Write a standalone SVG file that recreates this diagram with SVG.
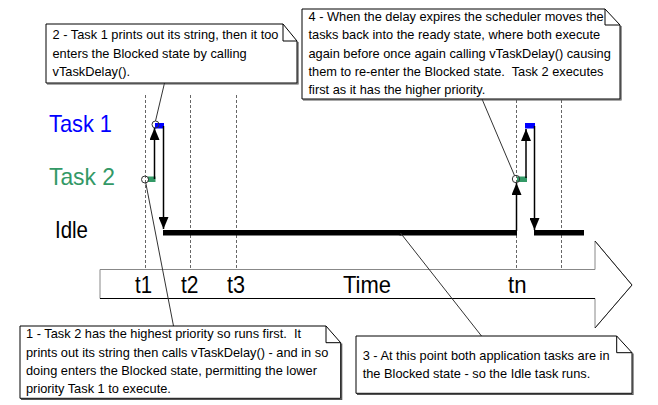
<svg xmlns="http://www.w3.org/2000/svg" width="658" height="405" viewBox="0 0 658 405">
<defs>
<marker id="ah" markerUnits="userSpaceOnUse" viewBox="0 0 12 10" markerWidth="12" markerHeight="10" refX="12" refY="5" orient="auto">
<path d="M0,0 L12,5 L0,10 z" fill="#000"/>
</marker>
<style>
.note{fill:#fff;stroke:#000;stroke-width:1}
.shadow{fill:none;stroke:#555;stroke-width:1.2}
.fold{fill:none;stroke:#000;stroke-width:1}
.nt{font-family:"Liberation Sans",Arial,sans-serif;font-size:12.8px;fill:#000;white-space:pre}
.big{font-family:"Liberation Sans",Arial,sans-serif;font-size:24px}
.dash{stroke:#666;stroke-width:1;stroke-dasharray:3,2;fill:none}
.lead{stroke:#333;stroke-width:1;fill:none}
.arr{stroke:#000;stroke-width:1.5;fill:none;marker-end:url(#ah)}
.ring{fill:none;stroke:#333;stroke-width:1}
.idle{fill:#000}
</style>
</defs>
<rect width="658" height="405" fill="#fff"/>

<g id="gridlines">
<line class="dash" x1="145.5" y1="95" x2="145.5" y2="269"/>
<line class="dash" x1="190.5" y1="95" x2="190.5" y2="269"/>
<line class="dash" x1="236.5" y1="95" x2="236.5" y2="269"/>
<line class="dash" x1="516.5" y1="95" x2="516.5" y2="269"/>
<line class="dash" x1="561.5" y1="95" x2="561.5" y2="269"/>
</g>

<g id="time-axis">
<polygon points="100,269.5 595,269.5 595,241 632,285 595,328 595,298.5 100,298.5" fill="#fff" stroke="#888" stroke-width="1"/>
<polyline points="100,298.5 595,298.5" fill="none" stroke="#000" stroke-width="1"/>
<polyline points="595,241 632,285 595,328" fill="none" stroke="#222" stroke-width="1"/>
<text class="big" x="135" y="292.5" textLength="17" lengthAdjust="spacingAndGlyphs">t1</text>
<text class="big" x="181" y="292.5" textLength="17.5" lengthAdjust="spacingAndGlyphs">t2</text>
<text class="big" x="227" y="292.5" textLength="18" lengthAdjust="spacingAndGlyphs">t3</text>
<text class="big" x="343" y="292.5" textLength="48" lengthAdjust="spacingAndGlyphs">Time</text>
<text class="big" x="508" y="292.5" textLength="18.5" lengthAdjust="spacingAndGlyphs">tn</text>
</g>

<g id="labels">
<text class="big" x="49" y="131.5" fill="#0000ff" font-size="25" textLength="63" lengthAdjust="spacingAndGlyphs">Task 1</text>
<text class="big" x="49" y="185" fill="#339966" font-size="25" textLength="66" lengthAdjust="spacingAndGlyphs">Task 2</text>
<text class="big" x="55" y="237.5" fill="#000" font-size="22" textLength="33" lengthAdjust="spacingAndGlyphs">Idle</text>
</g>

<g id="idle-bars">
<rect class="idle" x="163" y="230" width="354" height="5.5"/>
<rect class="idle" x="534" y="230" width="50" height="5.5"/>
<circle cx="400.5" cy="233" r="2.5" fill="#000"/>
</g>

<g id="task-bars">
<rect x="155" y="123" width="9" height="5.5" fill="#0000ff"/>
<rect x="148" y="176.5" width="7.5" height="5.5" fill="#339966"/>
<rect x="525" y="123" width="10" height="5.5" fill="#0000ff"/>
<rect x="517" y="176.5" width="10" height="5.5" fill="#339966"/>
</g>

<g id="connectors">
<line class="arr" x1="154.5" y1="179" x2="154.5" y2="128"/>
<line class="arr" x1="163.5" y1="126" x2="163.5" y2="229"/>
<line class="arr" x1="516.5" y1="231" x2="516.5" y2="183"/>
<line class="arr" x1="526" y1="178" x2="526" y2="129"/>
<line class="arr" x1="534.5" y1="126" x2="534.5" y2="230"/>
<line class="lead" x1="164.5" y1="83" x2="155.5" y2="121"/>
<line class="lead" x1="145.8" y1="183" x2="173.5" y2="326"/>
<line class="lead" x1="482" y1="99" x2="514.5" y2="175.5"/>
<line class="lead" x1="400.5" y1="233" x2="481.5" y2="336"/>
<circle class="ring" cx="155.5" cy="124.5" r="3.5"/>
<circle class="ring" cx="145" cy="179.5" r="3.5"/>
<circle class="ring" cx="516" cy="179" r="3.7"/>
</g>

<g id="note2">
<path class="shadow" d="M298,42 V84 H47"/>
<path class="note" d="M46,24 H283 L297,41 V83 H46 Z"/>
<path class="fold" d="M283,24 V41 H297"/>
<text class="nt" x="52.5" y="39">2 - Task 1 prints out its string, then it too</text>
<text class="nt" x="52.5" y="57.5">enters the Blocked state by calling</text>
<text class="nt" x="52.5" y="76">vTaskDelay().</text>
</g>

<g id="note4">
<path class="shadow" d="M621,26 V100 H303"/>
<path class="note" d="M302,9 H605 L620,25 V99 H302 Z"/>
<path class="fold" d="M605,9 V25 H620"/>
<text class="nt" x="308.5" y="21">4 - When the delay expires the scheduler moves the</text>
<text class="nt" x="308.5" y="39.3">tasks back into the ready state, where both execute</text>
<text class="nt" x="308.5" y="57.6">again before once again calling vTaskDelay() causing</text>
<text class="nt" x="308.5" y="75.9">them to re-enter the Blocked state.  Task 2 executes</text>
<text class="nt" x="308.5" y="94.2">first as it has the higher priority.</text>
</g>

<g id="note1">
<path class="shadow" d="M341.7,343.5 V399.3 H21"/>
<path class="note" d="M20,326 H326 L340.7,342.7 V398.3 H20 Z"/>
<path class="fold" d="M326,326 V342.7 H340.7"/>
<text class="nt" x="26" y="338.3">1 - Task 2 has the highest priority so runs first.  It</text>
<text class="nt" x="26" y="356.6">prints out its string then calls vTaskDelay() - and in so</text>
<text class="nt" x="26" y="374.9">doing enters the Blocked state, permitting the lower</text>
<text class="nt" x="26" y="393.2">priority Task 1 to execute.</text>
</g>

<g id="note3">
<path class="shadow" d="M633,353.5 V394.3 H357"/>
<path class="note" d="M356,336 H616.7 L632,352.7 V393.3 H356 Z"/>
<path class="fold" d="M616.7,336 V352.7 H632"/>
<text class="nt" x="362.7" y="360">3 - At this point both application tasks are in</text>
<text class="nt" x="362.7" y="378.3">the Blocked state - so the Idle task runs.</text>
</g>
</svg>
